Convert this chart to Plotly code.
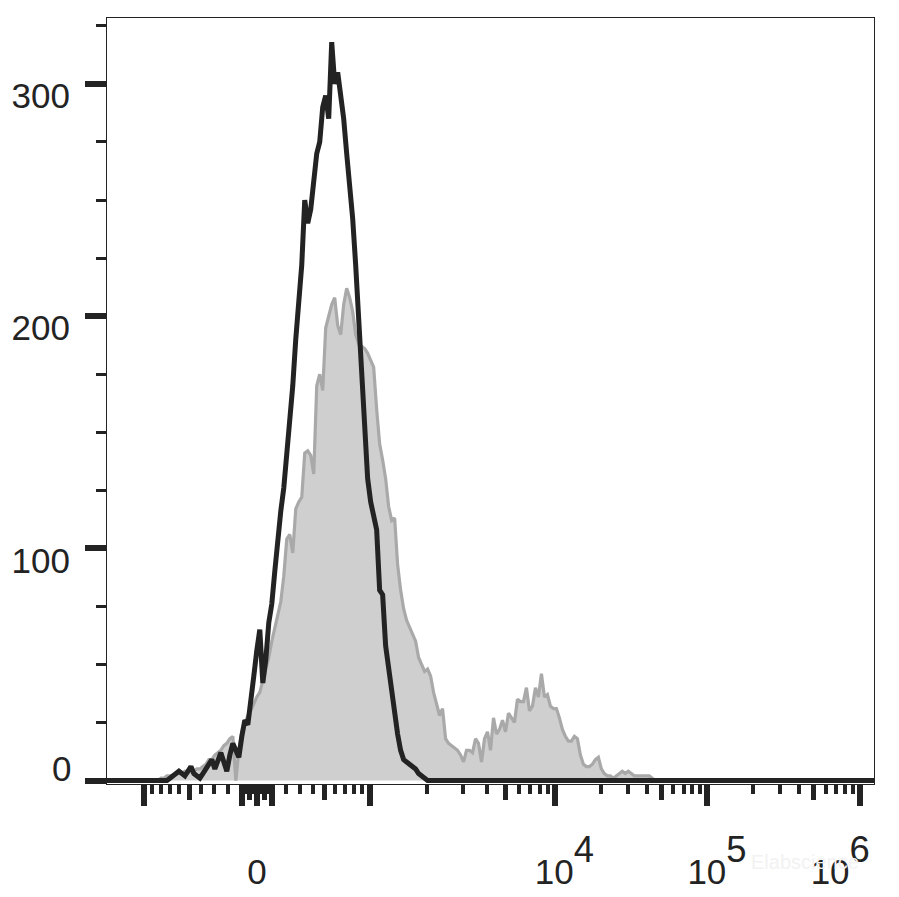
import numpy as np
import plotly.graph_objects as go

# ---------------- data (histogram counts per display channel) ----------------
N_CHANNELS = 256

BLACK_START = 18
BLACK_COUNTS = [
    0, 0, 0, 1, 2, 3, 4, 3, 2, 4, 6, 3, 2, 1, 3, 5, 7, 9, 5, 9,
    12, 8, 4, 11, 16, 13, 10, 19, 26, 24, 33, 45, 56, 65, 42, 52, 68, 76, 90, 104,
    116, 126, 140, 155, 170, 190, 205, 222, 250, 240, 246, 258, 270, 275, 290, 295, 285, 318, 300, 305,
    296, 285, 270, 258, 242, 222, 200, 175, 150, 130, 120, 115, 108, 82, 80, 58, 48, 38, 30, 20,
    13, 9, 8, 7, 6, 5, 3, 2, 1, 0,
]

GREY_START = 18
GREY_COUNTS = [
    1, 1, 2, 2, 2, 3, 3, 3, 4, 3, 4, 4, 5, 5, 6, 7, 9, 9, 11, 12,
    13, 15, 16, 18, 19, 0, 13, 21, 25, 28, 30, 33, 36, 38, 43, 48, 53, 60, 66, 72,
    77, 88, 104, 106, 98, 117, 120, 122, 141, 142, 140, 132, 170, 175, 168, 195, 200, 205, 208, 196,
    192, 205, 212, 208, 202, 192, 188, 187, 186, 184, 181, 178, 160, 145, 138, 130, 118, 112, 113, 93,
    82, 74, 69, 66, 63, 60, 53, 50, 47, 48, 45, 38, 33, 28, 31, 18, 16, 15, 14, 13,
    11, 8, 13, 13, 12, 18, 16, 8, 18, 21, 13, 27, 20, 22, 26, 21, 29, 27, 25, 35,
    34, 34, 40, 30, 32, 40, 36, 46, 36, 37, 32, 31, 31, 27, 22, 19, 17, 17, 19, 18,
    11, 7, 6, 6, 7, 9, 10, 5, 3, 2, 2, 1, 2, 3, 4, 3, 4, 3, 2, 2,
    2, 2, 2, 2, 1, 0,
]

# axis ticks (data values) and labels
X_MAJOR_VALUES = [-1000, -100, 0, 100, 1000, 1e4, 1e5, 1e6]
X_MAJOR_LABELS = ["", "", "0", "", "", "4", "5", "6"]
X_MID_VALUES = [-500, -50, 50, 500, 5e3, 5e4, 5e5]
Y_MAJOR_VALUES = [0, 100, 200, 300]
Y_MAJOR_LABELS = ["0", "100", "200", "300"]
WATERMARK = "Elabscience"

# ---------------- biexponential display transform ----------------
CH_ZERO, A_LOG, B_LIN, C_LOG, D_LIN = 50.07, 22.1, 17.86, 500.0, 3033.0


def to_channel(v):
    v = np.asarray(v, dtype=float)
    return CH_ZERO + A_LOG * np.arcsinh(v / C_LOG) + B_LIN * np.tanh(v / D_LIN)


minor_vals = []
for m in [2, 3, 4, 6, 7, 8, 9]:
    minor_vals += [-m * 100, -m * 10, m * 10, m * 100, m * 1e3, m * 1e4, m * 1e5]

channels = np.arange(0, N_CHANNELS + 1)
black = np.zeros(len(channels))
black[BLACK_START:BLACK_START + len(BLACK_COUNTS)] = BLACK_COUNTS
grey = np.zeros(len(channels))
grey[GREY_START:GREY_START + len(GREY_COUNTS)] = GREY_COUNTS


def xlabel(t, last=False):
    if t in ("", "0"):
        return t
    power = "10<span style='font-size:52px'><sup>" + t + "</sup></span>"
    if last:
        # last label sits left of its tick so it stays inside the picture
        return power + "&nbsp;" * 4
    return "&nbsp;&nbsp;" + power


INK = "#232323"
FONT = "Liberation Sans, Arial, sans-serif"

fig = go.Figure()
fig.add_trace(go.Scatter(
    x=channels, y=grey, mode="lines", fill="tozeroy",
    fillcolor="#cfcfcf", line=dict(color="#a9a9a9", width=3.2),
    hoverinfo="skip", showlegend=False,
))
fig.add_trace(go.Scatter(
    x=channels, y=black, mode="lines", xaxis="x2",
    line=dict(color=INK, width=5),
    hoverinfo="skip", showlegend=False,
))

fig.update_layout(
    width=891, height=889,
    margin=dict(l=99, r=25, t=10, b=113),
    paper_bgcolor="white", plot_bgcolor="white",
    font=dict(family=FONT, color=INK),
    xaxis=dict(
        range=[0, N_CHANNELS], tickmode="array",
        tickvals=to_channel(X_MAJOR_VALUES).tolist(),
        ticktext=[xlabel(t, i == len(X_MAJOR_LABELS) - 1)
                  for i, t in enumerate(X_MAJOR_LABELS)],
        ticks="outside", ticklen=21, tickwidth=6, tickcolor=INK,
        tickfont=dict(size=35, color=INK, family=FONT),
        ticklabelstandoff=36, ticklabeloverflow="allow",
        minor=dict(tickmode="array", tickvals=to_channel(minor_vals).tolist(),
                   ticks="outside", ticklen=9, tickwidth=4, tickcolor=INK),
        showline=True, linecolor=INK, linewidth=1, mirror=True,
        showgrid=False, zeroline=False, automargin=False, fixedrange=True,
    ),
    xaxis2=dict(
        range=[0, N_CHANNELS], overlaying="x", side="bottom", anchor="y",
        tickmode="array", tickvals=to_channel(X_MID_VALUES).tolist(),
        ticktext=[""] * len(X_MID_VALUES),
        ticks="outside", ticklen=15, tickwidth=5, tickcolor=INK,
        showline=False, showgrid=False, zeroline=False, automargin=False,
    ),
    yaxis=dict(
        range=[-1.5, 328.4], tickmode="array",
        tickvals=Y_MAJOR_VALUES,
        ticktext=[""] + Y_MAJOR_LABELS[1:],
        ticks="outside", ticklen=21, tickwidth=6, tickcolor=INK,
        tickfont=dict(size=35, color=INK, family=FONT),
        ticklabelshift=12, ticklabelstandoff=8,
        minor=dict(tickmode="array",
                   tickvals=[v for v in range(25, 330, 25) if v % 100],
                   ticks="outside", ticklen=10, tickwidth=3, tickcolor=INK),
        showline=True, linecolor=INK, linewidth=1, mirror=True,
        showgrid=False, zeroline=False, automargin=False,
    ),
    annotations=[
        dict(text=Y_MAJOR_LABELS[0], x=0, xref="paper", y=0, yref="y",
             xanchor="right", yanchor="middle", xshift=-34, yshift=12,
             showarrow=False, font=dict(size=35, color=INK, family=FONT)),
        dict(text=WATERMARK, x=0.91, xref="paper", y=-0.102, yref="paper",
             xanchor="center", yanchor="middle", showarrow=False,
             font=dict(size=20, color="#f2f2f2", family=FONT)),
    ],
)

fig.write_html("out.html")
